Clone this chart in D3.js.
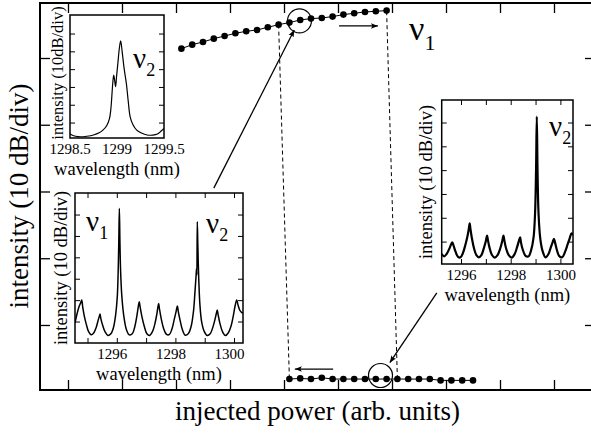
<!DOCTYPE html>
<html>
<head>
<meta charset="utf-8">
<script src="https://cdn.jsdelivr.net/npm/d3@7"></script>
<style>
  body { margin: 0; background: #fff; }
  svg { display: block; font-family: "Liberation Serif", "Times New Roman", serif; }
</style>
</head>
<body>
<div id="chart"></div>
<script>
let width = 591,
    height = 433,
    plot = ({ left: 40, right: 595, top: 3, bottom: 390 });

// main panel: injected power sweep (arb. units) vs intensity (dB, 10 dB/div)
const powerTicks = [0, 1, 2, 3, 4, 5, 6, 7, 8, 9];
const intensityTicks = [10, 20, 30, 40, 50];

const upperPower = [2.1, 2.3, 2.5, 2.7, 2.9, 3.1, 3.3, 3.5, 3.7, 3.9, 4.1, 4.3, 4.5, 4.7, 4.9, 5.1, 5.3, 5.5, 5.7, 5.9];
const upperIntensity = [51.4, 52.0, 52.4, 52.9, 53.3, 53.7, 54.0, 54.2, 54.6, 55.0, 55.3, 55.7, 55.9, 56.0, 56.2, 56.5, 56.7, 56.9, 57.0, 57.1];

const lowerPower = [4.1, 4.3, 4.5, 4.7, 4.9, 5.1, 5.3, 5.5, 5.7, 5.9, 6.1, 6.3, 6.5, 6.7, 6.9, 7.1, 7.3, 7.5];
const lowerIntensity = [1.9, 2.0, 1.9, 2.1, 1.9, 1.9, 1.9, 1.9, 1.9, 1.9, 1.9, 1.9, 1.9, 1.9, 1.7, 1.7, 1.7, 1.7];

const switchDown = [[3.9, 55.0], [4.1, 1.9]];
const switchUp = [[6.1, 1.9], [5.9, 57.1]];
const circled = [[4.287, 55.57], [5.787, 2.43]];
const sweepArrows = [[[5.02, 54.8], [5.74, 54.8]], [[4.91, 3.4], [4.2, 3.4]]];
const pointerArrows = [[[2.70, 30.5], [4.19, 54.2]], [[6.83, 14.8], [5.96, 4.35]]];

// inset spectra: [wavelength nm, intensity dB]
const dbTicks = [0, -10, -20, -30, -40, -50];

const spectrumZoom = [
  [1298.5, -56], [1298.52, -56.7], [1298.56, -57.4], [1298.61, -57.7], [1298.68, -57.4], [1298.75, -56.7],
  [1298.81, -55.5], [1298.85, -54], [1298.89, -51.5], [1298.92, -47.5], [1298.935, -42], [1298.945, -35],
  [1298.955, -27.5], [1298.965, -23], [1298.975, -26], [1298.985, -29.5], [1298.995, -24], [1299.01, -16],
  [1299.025, -8], [1299.039, -3.8], [1299.055, -10], [1299.075, -19], [1299.1, -28], [1299.12, -38],
  [1299.14, -46.5], [1299.17, -51], [1299.21, -54], [1299.26, -55.6], [1299.32, -56.7], [1299.38, -56.8],
  [1299.43, -56.2], [1299.47, -54.5], [1299.5, -53]
];
const zoomTickLabels = [1298.5, 1299, 1299.5];

const spectrumTwoMode = [
  [1294.556, -50.5], [1294.62, -46.5], [1294.69, -43], [1294.75, -41], [1294.785, -39.7], [1294.82, -43],
  [1294.87, -47], [1294.94, -51], [1295.02, -54.5], [1295.11, -56], [1295.2, -55], [1295.28, -52.5],
  [1295.35, -49], [1295.39, -47.2], [1295.41, -46.3], [1295.44, -48.5], [1295.5, -51.5], [1295.58, -54.5],
  [1295.68, -56.3], [1295.78, -55.5], [1295.87, -52.5], [1295.94, -47], [1296.0, -38], [1296.03, -26],
  [1296.05, -13], [1296.07, 3.1], [1296.09, -13], [1296.11, -25], [1296.15, -37], [1296.22, -47],
  [1296.31, -53.5], [1296.41, -56], [1296.51, -55.5], [1296.6, -52], [1296.67, -47], [1296.72, -42.5],
  [1296.75, -40.5], [1296.78, -43], [1296.84, -47.5], [1296.92, -52], [1297.01, -55.5], [1297.1, -56.3],
  [1297.2, -54.5], [1297.28, -51], [1297.34, -47], [1297.38, -43.5], [1297.41, -41.3], [1297.44, -44],
  [1297.5, -48.5], [1297.58, -53], [1297.68, -55.8], [1297.78, -55.8], [1297.87, -53], [1297.94, -49],
  [1298.0, -45.5], [1298.05, -42.5], [1298.08, -45], [1298.14, -49], [1298.22, -53.5], [1298.32, -56.2],
  [1298.42, -55.5], [1298.52, -52], [1298.6, -45], [1298.65, -36], [1298.69, -28], [1298.705, -25],
  [1298.715, -28], [1298.73, -3.1], [1298.75, -15], [1298.78, -30], [1298.82, -42], [1298.88, -50],
  [1298.97, -54.5], [1299.07, -56.3], [1299.17, -55.5], [1299.26, -52.5], [1299.33, -49], [1299.38, -46],
  [1299.41, -44.4], [1299.44, -46.5], [1299.5, -50.5], [1299.59, -54.5], [1299.69, -56.3], [1299.79, -55],
  [1299.88, -52], [1299.96, -47], [1300.02, -42.5], [1300.075, -39.7], [1300.12, -42], [1300.18, -44.5],
  [1300.24, -45.5], [1300.29, -45.8]
];

const spectrumSingleMode = [
  [1295.2, -55], [1295.3, -56], [1295.4, -55], [1295.5, -53], [1295.58, -51], [1295.63, -50.1],
  [1295.68, -51.5], [1295.76, -54], [1295.86, -56.2], [1295.96, -56.4], [1296.06, -54.5], [1296.16, -51],
  [1296.25, -47], [1296.3, -44], [1296.33, -42.1], [1296.36, -44.5], [1296.42, -48.5], [1296.5, -52.5],
  [1296.6, -55.5], [1296.7, -56.4], [1296.8, -55.5], [1296.9, -52.5], [1296.97, -50], [1297.01, -48],
  [1297.03, -47.3], [1297.06, -49], [1297.12, -52], [1297.22, -55.3], [1297.34, -56.5], [1297.45, -55.5],
  [1297.55, -53], [1297.63, -50], [1297.67, -48], [1297.69, -47.3], [1297.72, -49], [1297.79, -52.5],
  [1297.9, -55.5], [1298.02, -56.5], [1298.14, -55], [1298.24, -52], [1298.31, -49.5], [1298.36, -48],
  [1298.39, -50], [1298.46, -53], [1298.58, -55.8], [1298.7, -56], [1298.8, -53.5], [1298.9, -48],
  [1298.96, -38], [1299.0, -20], [1299.03, 2.7], [1299.06, -20], [1299.1, -38], [1299.17, -48.5],
  [1299.27, -54], [1299.38, -56.4], [1299.5, -55], [1299.6, -52], [1299.67, -50], [1299.72, -48.6],
  [1299.76, -50], [1299.83, -53], [1299.93, -55.8], [1300.05, -56.4], [1300.17, -54], [1300.27, -51],
  [1300.35, -48.5], [1300.43, -46.3], [1300.487, -47]
];
const wideTicks = [1295, 1296, 1297, 1298, 1299, 1300];
const wideTickLabels = [1296, 1298, 1300];

const svg = d3.select("#chart")
  .append("svg")
  .attr("width", width)
  .attr("height", height)
  .attr("viewBox", [0, 0, width, height]);

const defs = svg.append("defs");
defs.append("marker")
  .attr("id", "head")
  .attr("viewBox", "0 0 10 10")
  .attr("refX", 10).attr("refY", 5)
  .attr("markerWidth", 7).attr("markerHeight", 7)
  .attr("markerUnits", "userSpaceOnUse")
  .attr("orient", "auto")
  .append("path")
  .attr("d", "M0,1L10,5L0,9L2,5Z")
  .attr("fill", "black");

let x = d3.scaleLinear()
  .domain([-28 / 54, 527 / 54])
  .range([plot.left, plot.right]);

let y = d3.scaleLinear()
  .domain([0.26, 58.24])
  .range([plot.bottom, plot.top]);

// ticks on all four sides, pointing inwards
svg.append("g")
  .attr("transform", `translate(0,${plot.bottom})`)
  .call(d3.axisBottom(x).tickValues(powerTicks).tickSize(-10).tickFormat(""));
svg.append("g")
  .attr("transform", `translate(0,${plot.top})`)
  .call(d3.axisTop(x).tickValues(powerTicks).tickSize(-10).tickFormat(""));
svg.append("g")
  .attr("transform", `translate(${plot.left},0)`)
  .call(d3.axisLeft(y).tickValues(intensityTicks).tickSize(-10).tickFormat(""));
svg.append("g")
  .attr("transform", `translate(${plot.right},0)`)
  .call(d3.axisRight(y).tickValues(intensityTicks).tickSize(-10).tickFormat(""));
svg.selectAll(".domain").remove();
svg.selectAll(".tick line").attr("stroke", "black").attr("stroke-width", 1.3);

svg.append("rect")
  .attr("x", plot.left).attr("y", plot.top)
  .attr("width", plot.right - plot.left).attr("height", plot.bottom - plot.top)
  .attr("fill", "none").attr("stroke", "black").attr("stroke-width", 2);

svg.append("text")
  .attr("transform", `translate(28,196) rotate(-90)`)
  .attr("text-anchor", "middle")
  .attr("font-size", 27)
  .text("intensity (10 dB/div)");

svg.append("text")
  .attr("x", (plot.left + plot.right) / 2).attr("y", 420)
  .attr("text-anchor", "middle")
  .attr("font-size", 27)
  .text("injected power (arb. units)");

// hysteresis loop
const line = d3.line().x(d => x(d[0])).y(d => y(d[1]));
const upper = d3.zip(upperPower, upperIntensity);
const lower = d3.zip(lowerPower, lowerIntensity);

[switchDown, switchUp].forEach(seg => {
  svg.append("path")
    .attr("d", line(seg))
    .attr("fill", "none").attr("stroke", "black")
    .attr("stroke-width", 1).attr("stroke-dasharray", "4,3");
});

[upper, lower].forEach(branch => {
  svg.append("path")
    .attr("d", line(branch))
    .attr("fill", "none").attr("stroke", "black").attr("stroke-width", 1);
  svg.append("g")
    .selectAll("circle")
    .data(branch)
    .join("circle")
    .attr("cx", d => x(d[0]))
    .attr("cy", d => y(d[1]))
    .attr("r", 3.3)
    .attr("fill", "black");
});

svg.append("g")
  .selectAll("circle")
  .data(circled)
  .join("circle")
  .attr("cx", d => x(d[0]))
  .attr("cy", d => y(d[1]))
  .attr("r", 12)
  .attr("fill", "none").attr("stroke", "black").attr("stroke-width", 1.2);

sweepArrows.concat(pointerArrows).forEach(seg => {
  svg.append("path")
    .attr("d", line(seg))
    .attr("fill", "none").attr("stroke", "black").attr("stroke-width", 1.3)
    .attr("marker-end", "url(#head)");
});

function nuLabel(g, px, py, sub, big, small) {
  const t = g.append("text").attr("x", px).attr("y", py).attr("font-size", big);
  t.append("tspan").text("\u03bd");
  t.append("tspan").attr("dy", small * 0.45).attr("font-size", small).text(sub);
}

nuLabel(svg, 409, 40, "1", 34, 22);

// insets
function drawInset(cfg) {
  const b = cfg.box;
  const g = svg.append("g");
  const ix = d3.scaleLinear().domain(cfg.xDomain).range([b.x0, b.x1]);
  const iy = d3.scaleLinear().domain(cfg.yDomain).range([b.y1, b.y0]);

  g.append("rect")
    .attr("x", b.x0).attr("y", b.y0)
    .attr("width", b.x1 - b.x0).attr("height", b.y1 - b.y0)
    .attr("fill", "white");

  const clipId = "clip" + cfg.id;
  g.append("clipPath").attr("id", clipId)
    .append("rect")
    .attr("x", b.x0).attr("y", b.y0)
    .attr("width", b.x1 - b.x0).attr("height", b.y1 - b.y0);

  g.append("path")
    .attr("clip-path", `url(#${clipId})`)
    .attr("d", d3.line().x(d => ix(d[0])).y(d => iy(d[1])).curve(d3.curveCatmullRom)(cfg.data))
    .attr("fill", "none").attr("stroke", "black")
    .attr("stroke-width", cfg.lineWidth).attr("stroke-linejoin", "round");

  const ticks = g.append("g").attr("stroke", "black").attr("stroke-width", 1);
  cfg.yTicks.forEach(v => {
    ticks.append("line").attr("x1", b.x0).attr("x2", b.x0 + 5).attr("y1", iy(v)).attr("y2", iy(v));
    ticks.append("line").attr("x1", b.x1 - 5).attr("x2", b.x1).attr("y1", iy(v)).attr("y2", iy(v));
  });
  cfg.xTicks.forEach(v => {
    ticks.append("line").attr("x1", ix(v)).attr("x2", ix(v)).attr("y1", b.y0).attr("y2", b.y0 + 5);
    ticks.append("line").attr("x1", ix(v)).attr("x2", ix(v)).attr("y1", b.y1 - 5).attr("y2", b.y1);
  });

  g.append("rect")
    .attr("x", b.x0).attr("y", b.y0)
    .attr("width", b.x1 - b.x0).attr("height", b.y1 - b.y0)
    .attr("fill", "none").attr("stroke", "black").attr("stroke-width", 1.5);

  g.append("g")
    .selectAll("text")
    .data(cfg.xLabels)
    .join("text")
    .attr("x", d => ix(d) + cfg.labelShift)
    .attr("y", b.y1 + 16)
    .attr("text-anchor", "middle")
    .attr("font-size", 15)
    .text(d => d);

  g.append("text")
    .attr("x", (b.x0 + b.x1) / 2).attr("y", b.y1 + 36.5)
    .attr("text-anchor", "middle")
    .attr("font-size", 18.5)
    .text("wavelength (nm)");

  g.append("text")
    .attr("transform", `translate(${b.x0 - cfg.yLabelGap},${cfg.yLabelCenter}) rotate(-90)`)
    .attr("text-anchor", "middle")
    .attr("font-size", cfg.yLabelSize)
    .text(cfg.yLabel);

  cfg.nu.forEach(n => nuLabel(g, n[0], n[1], n[2], 29, 18));
}

drawInset({
  id: 1,
  box: { x0: 70, x1: 164, y0: 15, y1: 138 },
  xDomain: [1298.5, 1299.5],
  yDomain: [-58.4, 10.7],
  data: spectrumZoom,
  lineWidth: 1.2,
  yTicks: dbTicks,
  xTicks: [],
  xLabels: zoomTickLabels,
  labelShift: 0,
  yLabel: "intensity (10dB/div)",
  yLabelSize: 16.5,
  yLabelGap: 7,
  yLabelCenter: 73,
  nu: [[133, 68, "2"]]
});

drawInset({
  id: 2,
  box: { x0: 75, x1: 243, y0: 193, y1: 343 },
  xDomain: [1294.556, 1300.29],
  yDomain: [-59.8, 10.3],
  data: spectrumTwoMode,
  lineWidth: 1.5,
  yTicks: dbTicks,
  xTicks: wideTicks,
  xLabels: wideTickLabels,
  labelShift: -5,
  yLabel: "intensity (10 dB/div)",
  yLabelSize: 18.5,
  yLabelGap: 8,
  yLabelCenter: 268,
  nu: [[86, 231, "1"], [206, 233, "2"]]
});

drawInset({
  id: 3,
  box: { x0: 441.7, x1: 573, y0: 100, y1: 264 },
  xDomain: [1295.203, 1300.487],
  yDomain: [-59.2, 9.66],
  data: spectrumSingleMode,
  lineWidth: 2.2,
  yTicks: dbTicks,
  xTicks: [1296, 1297, 1298, 1299, 1300],
  xLabels: wideTickLabels,
  labelShift: 0,
  yLabel: "intensity (10 dB/div)",
  yLabelSize: 18.5,
  yLabelGap: 10,
  yLabelCenter: 182,
  nu: [[549, 136, "2"]]
});
</script>
</body>
</html>
